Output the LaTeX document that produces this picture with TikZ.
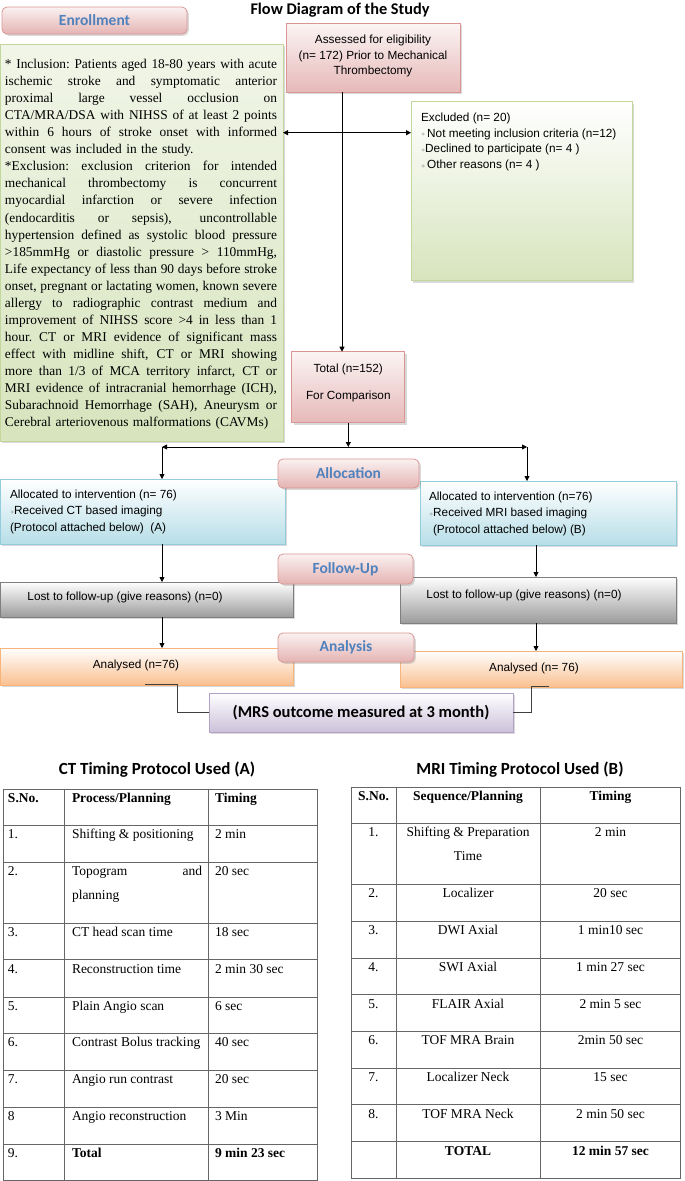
\documentclass[tikz,border=0pt]{standalone}
\usepackage{fontspec}
\usepackage{graphicx}
\setmainfont{Liberation Serif}
\newfontfamily\arialf{Liberation Sans}
\newfontfamily\calf{Carlito}
\usetikzlibrary{arrows.meta,shadows}
\definecolor{hbBlue}{HTML}{4F81BD}
\definecolor{pkA}{HTML}{F2DCDB}
\definecolor{pkB}{HTML}{E6B9B8}
\definecolor{pkC}{HTML}{D99694}
\definecolor{grA}{HTML}{EBF1DE}
\definecolor{grB}{HTML}{D7E4BD}
\definecolor{grC}{HTML}{C3D69B}
\definecolor{blB}{HTML}{B7DEE8}
\definecolor{blC}{HTML}{93CDDD}
\definecolor{orB}{HTML}{FAC090}
\definecolor{orC}{HTML}{F9B47A}
\definecolor{puB}{HTML}{CCC1DA}
\definecolor{puC}{HTML}{B3A2C7}
\definecolor{gyB}{HTML}{9C9C9C}
\definecolor{gyC}{HTML}{7F7F7F}
\newcommand\bul{\textcolor{black!45}{\raisebox{0.1ex}{\scalebox{0.7}{$\ast$}}}}
\newcommand\jl[1]{\makebox[272pt][s]{\spaceskip=0.25em plus 10em minus 0.08em\xspaceskip=\spaceskip #1}\\}
\begin{document}
\begin{tikzpicture}[x=1pt,y=-1pt,
  every node/.style={inner sep=0pt,outer sep=0pt},
  shad/.style={drop shadow={shadow xshift=1.8pt,shadow yshift=-1.8pt,opacity=0.3}},
  headbox/.style={draw=pkC,line width=0.8pt,rounded corners=5pt,top color=pkA!40!white,bottom color=pkB!85!pkC,shad,font=\calf\bfseries\fontsize{15.5}{18}\selectfont,text=hbBlue},
  pinkbox/.style={draw=pkC,line width=0.8pt,top color=pkA!30!white,bottom color=pkB,shad},
  greenbox/.style={draw=grC,line width=0.8pt,top color=grA!70!white,bottom color=grB,shad},
  greenbox2/.style={draw=grC,line width=0.8pt,top color=white,bottom color=grB,shad},
  bluebox/.style={draw=blC,line width=0.8pt,top color=white,bottom color=blB,shad},
  graybox/.style={draw=gyC,line width=0.8pt,top color=white,bottom color=gyB,shad},
  orangebox/.style={draw=orC,line width=0.8pt,top color=white,bottom color=orB,shad},
  purplebox/.style={draw=puC,line width=0.8pt,top color=white,bottom color=puB,shad},
  sf/.style={font=\arialf\fontsize{11.8}{15.7}\selectfont},
  sfa/.style={font=\arialf\fontsize{11.8}{16.5}\selectfont},
  arr/.style={-{Triangle[length=5pt,width=5pt]},line width=0.8pt},
  darr/.style={{Triangle[length=5pt,width=5pt]}-{Triangle[length=5pt,width=5pt]},line width=0.8pt},
  conn/.style={line width=0.9pt,draw=black!75},
  tline/.style={line width=1pt,draw=black!60},
  tt/.style={font=\fontsize{13.5}{16}\selectfont},
  ttb/.style={font=\bfseries\fontsize{13.5}{16}\selectfont},
  ttitle/.style={font=\calf\bfseries\fontsize{17}{20}\selectfont},
]
\useasboundingbox (0,0) rectangle (685,1181);

% title
\node[font=\calf\bfseries\fontsize{16.3}{19}\selectfont] (title) at (340,10) {Flow Diagram of the Study};

% enrollment
\node[headbox,minimum width=185pt,minimum height=27pt] (enroll) at (94.5,20.5) {Enrollment};

% inclusion box
\node[greenbox,minimum width=283pt,minimum height=397pt] (incl) at (141.5,242.5) {};
\node[anchor=north west,text width=272pt,font=\fontsize{13.4}{17.05}\selectfont] (inclT) at (5,59.3) {%
\jl{* Inclusion: Patients aged 18-80 years with acute}
\jl{ischemic stroke and symptomatic anterior}
\jl{proximal large vessel occlusion on}
\jl{CTA/MRA/DSA with NIHSS of at least 2 points}
\jl{within 6 hours of stroke onset with informed}
consent was included in the study.\\
\jl{*Exclusion: exclusion criterion for intended}
\jl{mechanical thrombectomy is concurrent}
\jl{myocardial infarction or severe infection}
\jl{(endocarditis or sepsis), uncontrollable}
\jl{hypertension defined as systolic blood pressure}
\jl{>185mmHg or diastolic pressure > 110mmHg,}
\jl{Life expectancy of less than 90 days before stroke}
\jl{onset, pregnant or lactating women, known severe}
\jl{allergy to radiographic contrast medium and}
\jl{improvement of NIHSS score >4 in less than 1}
\jl{hour. CT or MRI evidence of significant mass}
\jl{effect with midline shift, CT or MRI showing}
\jl{more than 1/3 of MCA territory infarct, CT or}
\jl{MRI evidence of intracranial hemorrhage (ICH),}
\jl{Subarachnoid Hemorrhage (SAH), Aneurysm or}
Cerebral arteriovenous malformations (CAVMs)};

% assessed
\node[pinkbox,minimum width=174pt,minimum height=69pt] (assess) at (373,57.5) {};
\node[sf,align=center] (assessT) at (373,56) {Assessed for eligibility\\(n= 172) Prior to Mechanical\\Thrombectomy};

% excluded
\node[greenbox2,minimum width=221pt,minimum height=179pt] (excl) at (521.5,191.3) {};
\node[sf,align=left,anchor=north west] (exclT) at (421,113) {Excluded (n= 20)\\\bul\,Not meeting inclusion criteria (n=12)\\\bul Declined to participate (n= 4 )\\\bul\,Other reasons (n= 4 )};

% total
\node[pinkbox,minimum width=113pt,minimum height=71pt] (total) at (348.3,387.2) {};
\node[font=\arialf\fontsize{11.8}{27.7}\selectfont,align=center] (totalT) at (348.3,383) {Total (n=152)\\For Comparison};

% connectors top
\coordinate (xA) at (342,0);
\coordinate (yE) at (0,132.7);
\draw[arr] (xA |- assess.south) -- (xA |- total.north);
\draw[darr] (incl.east |- yE) -- (excl.west |- yE);

\coordinate (bL) at (162,447);
\coordinate (bR) at (527,447);
\coordinate (xL) at (162,0);
\coordinate (xR) at (536,0);
\draw[arr] (total.south) -- (total.south |- bL);
\draw[darr] (bL) -- (bR);

% allocation
\node[bluebox,minimum width=285pt,minimum height=65pt] (allocL) at (142.5,511.5) {};
\node[sfa,align=left,anchor=north west] (allocLT) at (10,489.6) {Allocated to intervention (n= 76)\\\bul Received CT based imaging\\(Protocol attached below)~~(A)};
\node[bluebox,minimum width=256pt,minimum height=64pt] (allocR) at (548,513) {};
\node[sfa,align=left,anchor=north west] (allocRT) at (429,491.6) {Allocated to intervention (n=76)\\\bul Received MRI based imaging\\\hspace*{4pt}(Protocol attached below) (B)};
\node[headbox,minimum width=141pt,minimum height=29pt] (allocH) at (348.5,473.5) {Allocation};
\draw[arr] (bL) -- (bL |- allocL.north);
\draw[arr] (bR) -- (bR |- allocR.north);

% follow-up
\node[graybox,minimum width=293pt,minimum height=35pt] (lostL) at (146.5,599.5) {};
\node[sf] (lostLT) at (125,597) {Lost to follow-up (give reasons) (n=0)};
\node[graybox,minimum width=276pt,minimum height=46pt] (lostR) at (538,600) {};
\node[sf] (lostRT) at (524,595) {Lost to follow-up (give reasons) (n=0)};
\node[headbox,minimum width=135pt,minimum height=30pt] (follow) at (345.5,569) {Follow-Up};
\draw[arr] (xL |- allocL.south) -- (xL |- lostL.north);
\draw[arr] (xR |- allocR.south) -- (xR |- lostR.north);

% analysis
\node[orangebox,minimum width=293pt,minimum height=37pt] (anL) at (146.5,666.5) {};
\node[sf] (anLT) at (136,665) {Analysed (n=76)};
\node[orangebox,minimum width=282pt,minimum height=36pt] (anR) at (541,669) {};
\node[sf] (anRT) at (534,668) {Analysed (n= 76)};
\node[headbox,minimum width=136pt,minimum height=29pt] (analysis) at (346,647.5) {Analysis};
\draw[arr] (xL |- lostL.south) -- (xL |- anL.north);
\draw[arr] (xR |- lostR.south) -- (xR |- anR.north);

% MRS
\node[purplebox,minimum width=304pt,minimum height=39pt,font=\calf\bfseries\fontsize{16.5}{20}\selectfont] (mrs) at (361,712.5) {(MRS outcome measured at 3 month)};
\coordinate (mL) at (145,684);
\coordinate (mR) at (549,686);
\draw[conn] (mL) -- (177,684) |- (mrs.west);
\draw[conn] (mrs.east) -| (531,686) -- (mR);

% CT table
\node[ttitle] (ctTitle) at (157,770) {CT Timing Protocol Used (A)};
\draw[tline] (3,789) rectangle (317,1180);
\foreach \y in {825,862,923,959,997,1033,1070,1107,1144} \draw[tline] (3,\y) -- (317,\y);
\draw[tline] (64,789) -- (64,1180);
\draw[tline] (208,789) -- (208,1180);
\node[ttb,anchor=base west] (cth1) at (8,802.5) {S.No.};
\node[ttb,anchor=base west] (cth2) at (72,802.5) {Process/Planning};
\node[ttb,anchor=base west] (cth3) at (215,802.5) {Timing};
\foreach \n/\p/\t/\y [count=\i] in {1./Shifting \& positioning/2 min/838.5,
  3./CT head scan time/18 sec/936.5,
  4./Reconstruction time/2 min 30 sec/973.5,
  5./Plain Angio scan/6 sec/1010.5,
  6./Contrast Bolus tracking/40 sec/1046.5,
  7./Angio run contrast/20 sec/1083.5,
  8/Angio reconstruction/3 Min/1120.5}{
  \node[tt,anchor=base west] (cta\i) at (8,\y) {\n};
  \node[tt,anchor=base west] (ctb\i) at (72,\y) {\p};
  \node[tt,anchor=base west] (ctc\i) at (215,\y) {\t};
}
\node[tt,anchor=base west] (ctr2a) at (8,875.5) {2.};
\node[tt,anchor=base west] (ctr2b) at (72,875.5) {\makebox[130pt][s]{Topogram\hfill and}};
\node[tt,anchor=base west] (ctr2b2) at (72,899.5) {planning};
\node[tt,anchor=base west] (ctr2c) at (215,875.5) {20 sec};
\node[tt,anchor=base west] (ctr9a) at (8,1157.5) {9.};
\node[ttb,anchor=base west] (ctr9b) at (72,1157.5) {Total};
\node[ttb,anchor=base west] (ctr9c) at (215,1157.5) {9 min 23 sec};

% MRI table
\node[ttitle] (mrTitle) at (520,770) {MRI Timing Protocol Used (B)};
\draw[tline] (351,787) rectangle (680,1178);
\foreach \y in {823,884,921,958,994,1031,1068,1104,1141} \draw[tline] (351,\y) -- (680,\y);
\draw[tline] (396,787) -- (396,1178);
\draw[tline] (540,787) -- (540,1178);
\node[ttb,anchor=base] (mrh1) at (373.5,800.5) {S.No.};
\node[ttb,anchor=base] (mrh2) at (468,800.5) {Sequence/Planning};
\node[ttb,anchor=base] (mrh3) at (610.5,800.5) {Timing};
\foreach \n/\p/\t/\y [count=\i] in {2./Localizer/20 sec/897.5,
  3./DWI Axial/1 min10 sec/934.5,
  4./SWI Axial/1 min 27 sec/971.5,
  5./FLAIR Axial/2 min 5 sec/1008.5,
  6./TOF MRA Brain/2min 50 sec/1044.5,
  7./Localizer Neck/15 sec/1081.5,
  8./TOF MRA Neck/2 min 50 sec/1118.5}{
  \node[tt,anchor=base] (mra\i) at (373.5,\y) {\n};
  \node[tt,anchor=base] (mrb\i) at (468,\y) {\p};
  \node[tt,anchor=base] (mrc\i) at (610.5,\y) {\t};
}
\node[tt,anchor=base] (mr1a) at (373.5,836.5) {1.};
\node[tt,anchor=base] (mr1b) at (468,836.5) {Shifting \& Preparation};
\node[tt,anchor=base] (mr1b2) at (468,860.5) {Time};
\node[tt,anchor=base] (mr1c) at (610.5,836.5) {2 min};
\node[ttb,anchor=base] (mrtb) at (468,1155.5) {TOTAL};
\node[ttb,anchor=base] (mrtc) at (610.5,1155.5) {12 min 57 sec};
\end{tikzpicture}
\end{document}
